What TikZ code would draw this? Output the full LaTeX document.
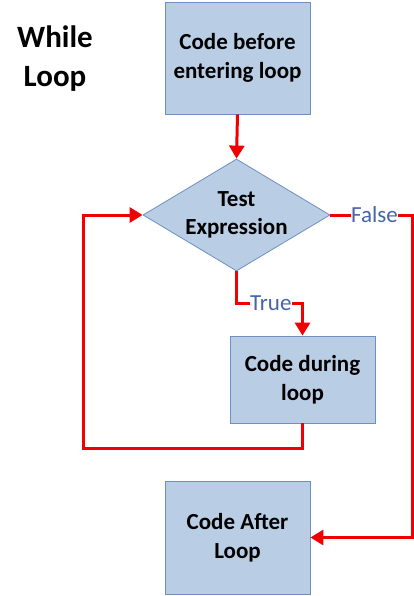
\documentclass[tikz,border=0pt]{standalone}
\usepackage{fontspec}
\setmainfont{Carlito}
\usetikzlibrary{shapes.geometric,arrows.meta}
\definecolor{boxfill}{HTML}{B9CDE5}
\definecolor{boxline}{HTML}{6F8FC0}
\definecolor{flow}{HTML}{F00000}
\definecolor{lbl}{HTML}{4664A8}
\begin{document}
\begin{tikzpicture}[x=1pt,y=-1pt,
  box/.style={draw=boxline,fill=boxfill,line width=0.8pt,align=center,inner sep=0pt,font=\fontsize{23}{28.5}\selectfont\bfseries},
  flowline/.style={draw=flow,line width=3pt},
  flowarrow/.style={flowline,-{Triangle[length=13pt,width=15pt]}},
  lab/.style={fill=white,inner sep=0.5pt,text=lbl,font=\fontsize{23}{26}\selectfont}]
\useasboundingbox (0,0) rectangle (414,596);
\node[font=\fontsize{31}{39}\selectfont\bfseries,align=center] (title) at (55,59) {While\\Loop};
\node[box,minimum width=145pt,minimum height=112pt] (b1) at (237.5,58) {Code before\\entering loop};
\node[box,diamond,aspect=1.67,minimum width=187pt,minimum height=112pt] (dec) at (236.5,215) {Test\\Expression};
\node[box,minimum width=145pt,minimum height=87pt] (b2) at (302.5,379.5) {Code during\\loop};
\node[box,minimum width=145pt,minimum height=113pt] (b3) at (237.5,537.5) {Code After\\Loop};
\coordinate (lb) at (83,448);
\coordinate (fr) at (412,215);
\draw[flowarrow] (b1.south) -- (dec.north);
\draw[flowarrow] (dec.south) -- ++(0,32) -| node[lab,pos=0.26] {True} (b2.north);
\draw[flowarrow] (b2.south) |- (lb) |- (dec.west);
\draw[flowarrow] (dec.east) -- node[lab,pos=0.54] {False} (fr) |- (b3.east);
\end{tikzpicture}
\end{document}
